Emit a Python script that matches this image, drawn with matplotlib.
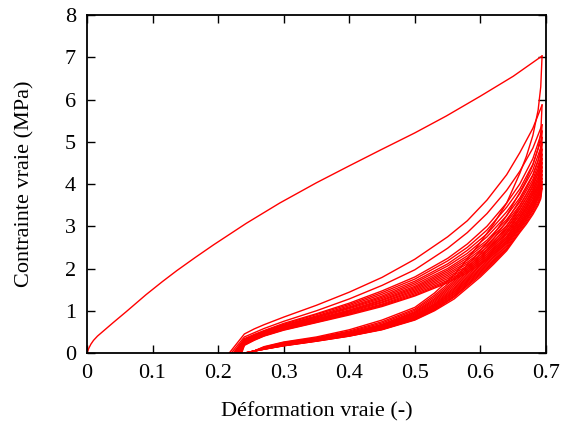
import matplotlib
matplotlib.use("Agg")
import matplotlib.pyplot as plt

# first loading curve
load1_strain = [0, 0.003, 0.006, 0.010, 0.016, 0.025, 0.040, 0.060, 0.090, 0.115, 0.137, 0.165,
                0.193, 0.243, 0.294, 0.350, 0.400, 0.447, 0.500, 0.548, 0.600, 0.650, 0.694]
load1_stress = [0, 0.12, 0.21, 0.30, 0.40, 0.52, 0.72, 0.98, 1.38, 1.69, 1.95, 2.26,
                2.56, 3.07, 3.55, 4.03, 4.43, 4.80, 5.21, 5.61, 6.08, 6.55, 7.03]

# reloading curves (cycles 2..17): start strain at zero stress, then stress at reload_strain
reload_strain = [0.24, 0.255, 0.27, 0.30, 0.35, 0.40, 0.45, 0.50, 0.55, 0.58, 0.61, 0.64, 0.66, 0.68, 0.694]
reload_start = [0.217, 0.220, 0.223, 0.224, 0.225, 0.226, 0.227, 0.228,
                0.229, 0.230, 0.231, 0.232, 0.233, 0.234, 0.235, 0.236]
reload_stress = [
    [0.45, 0.57, 0.67, 0.85, 1.13, 1.44, 1.79, 2.22, 2.75, 3.13, 3.62, 4.22, 4.74, 5.32, 5.87],
    [0.38, 0.48, 0.58, 0.75, 1.00, 1.28, 1.60, 1.97, 2.48, 2.85, 3.30, 3.85, 4.30, 4.85, 5.40],
    [0.34, 0.44, 0.53, 0.70, 0.93, 1.18, 1.47, 1.80, 2.24, 2.58, 3.00, 3.55, 4.00, 4.60, 5.25],
    [0.32, 0.42, 0.52, 0.68, 0.91, 1.15, 1.43, 1.75, 2.18, 2.50, 2.91, 3.45, 3.88, 4.47, 5.10],
    [0.30, 0.41, 0.50, 0.66, 0.88, 1.12, 1.39, 1.70, 2.11, 2.43, 2.82, 3.34, 3.77, 4.33, 4.95],
    [0.29, 0.40, 0.49, 0.65, 0.86, 1.09, 1.35, 1.66, 2.06, 2.36, 2.75, 3.25, 3.67, 4.22, 4.82],
    [0.28, 0.38, 0.48, 0.64, 0.85, 1.07, 1.32, 1.62, 2.00, 2.30, 2.67, 3.16, 3.57, 4.11, 4.70],
    [0.26, 0.37, 0.47, 0.62, 0.83, 1.05, 1.29, 1.58, 1.96, 2.25, 2.62, 3.09, 3.50, 4.02, 4.60],
    [0.25, 0.36, 0.46, 0.61, 0.81, 1.02, 1.26, 1.55, 1.92, 2.20, 2.56, 3.02, 3.42, 3.93, 4.50],
    [0.24, 0.35, 0.45, 0.60, 0.80, 1.00, 1.24, 1.52, 1.88, 2.15, 2.50, 2.95, 3.34, 3.84, 4.40],
    [0.23, 0.34, 0.44, 0.59, 0.78, 0.99, 1.21, 1.49, 1.84, 2.11, 2.44, 2.89, 3.27, 3.77, 4.31],
    [0.22, 0.33, 0.43, 0.58, 0.77, 0.97, 1.19, 1.46, 1.80, 2.06, 2.39, 2.83, 3.20, 3.68, 4.22],
    [0.21, 0.32, 0.42, 0.57, 0.76, 0.95, 1.16, 1.43, 1.76, 2.02, 2.34, 2.76, 3.13, 3.60, 4.13],
    [0.20, 0.32, 0.41, 0.56, 0.74, 0.93, 1.14, 1.40, 1.72, 1.98, 2.29, 2.71, 3.07, 3.53, 4.05],
    [0.19, 0.31, 0.41, 0.55, 0.73, 0.92, 1.12, 1.37, 1.69, 1.94, 2.24, 2.65, 3.01, 3.46, 3.97],
    [0.18, 0.30, 0.40, 0.54, 0.72, 0.90, 1.10, 1.35, 1.66, 1.90, 2.20, 2.60, 2.95, 3.40, 3.90],
]

# unloading curves (cycles 1..17): stress at unload_strain, then end strain at zero stress
unload_strain = [0.694, 0.692, 0.688, 0.68, 0.67, 0.66, 0.64, 0.62, 0.60,
                 0.58, 0.56, 0.53, 0.50, 0.45, 0.40, 0.35, 0.30, 0.27]
unload_end = [0.248, 0.247, 0.246, 0.245, 0.245, 0.244, 0.244, 0.243, 0.243,
              0.242, 0.242, 0.242, 0.241, 0.241, 0.241, 0.240, 0.240]
unload_stress = [
    [7.03, 6.30, 5.75, 5.15, 4.65, 4.25, 3.55, 3.05, 2.62, 2.22, 1.85, 1.42, 1.08, 0.78, 0.55, 0.38, 0.26, 0.15],
    [5.87, 5.20, 4.85, 4.45, 4.10, 3.80, 3.25, 2.80, 2.42, 2.08, 1.76, 1.37, 1.04, 0.74, 0.52, 0.36, 0.25, 0.14],
    [5.40, 4.85, 4.55, 4.20, 3.90, 3.62, 3.12, 2.70, 2.34, 2.02, 1.71, 1.33, 1.01, 0.71, 0.50, 0.35, 0.24, 0.13],
    [5.25, 4.65, 4.35, 4.05, 3.75, 3.48, 3.00, 2.62, 2.28, 1.97, 1.67, 1.29, 0.98, 0.68, 0.48, 0.34, 0.22, 0.12],
    [5.10, 4.54, 4.26, 3.97, 3.67, 3.41, 2.94, 2.56, 2.23, 1.92, 1.63, 1.26, 0.96, 0.67, 0.47, 0.33, 0.21, 0.12],
    [4.95, 4.43, 4.16, 3.88, 3.60, 3.34, 2.87, 2.50, 2.18, 1.88, 1.59, 1.23, 0.94, 0.65, 0.46, 0.33, 0.21, 0.11],
    [4.82, 4.33, 4.08, 3.80, 3.53, 3.28, 2.82, 2.45, 2.13, 1.84, 1.55, 1.20, 0.92, 0.64, 0.45, 0.32, 0.20, 0.11],
    [4.70, 4.24, 4.00, 3.74, 3.47, 3.22, 2.76, 2.41, 2.09, 1.80, 1.52, 1.17, 0.90, 0.63, 0.45, 0.32, 0.20, 0.11],
    [4.60, 4.17, 3.94, 3.68, 3.41, 3.18, 2.72, 2.37, 2.06, 1.77, 1.49, 1.15, 0.88, 0.62, 0.44, 0.31, 0.20, 0.11],
    [4.50, 4.09, 3.88, 3.62, 3.36, 3.13, 2.68, 2.33, 2.02, 1.74, 1.46, 1.13, 0.87, 0.61, 0.44, 0.31, 0.19, 0.10],
    [4.40, 4.02, 3.82, 3.57, 3.31, 3.08, 2.64, 2.29, 1.99, 1.71, 1.44, 1.11, 0.85, 0.60, 0.43, 0.30, 0.19, 0.10],
    [4.31, 3.95, 3.76, 3.51, 3.26, 3.04, 2.60, 2.26, 1.96, 1.69, 1.41, 1.09, 0.84, 0.59, 0.42, 0.30, 0.19, 0.10],
    [4.22, 3.89, 3.70, 3.46, 3.22, 3.00, 2.56, 2.22, 1.93, 1.66, 1.39, 1.07, 0.83, 0.58, 0.42, 0.29, 0.18, 0.10],
    [4.13, 3.82, 3.65, 3.41, 3.17, 2.96, 2.52, 2.19, 1.90, 1.63, 1.36, 1.05, 0.81, 0.57, 0.41, 0.29, 0.18, 0.09],
    [4.05, 3.76, 3.59, 3.37, 3.13, 2.92, 2.48, 2.16, 1.87, 1.61, 1.34, 1.03, 0.80, 0.56, 0.41, 0.29, 0.18, 0.09],
    [3.97, 3.70, 3.54, 3.32, 3.09, 2.88, 2.45, 2.13, 1.84, 1.58, 1.32, 1.02, 0.79, 0.56, 0.40, 0.28, 0.17, 0.09],
    [3.90, 3.65, 3.50, 3.28, 3.05, 2.85, 2.42, 2.10, 1.80, 1.54, 1.28, 1.00, 0.78, 0.55, 0.40, 0.28, 0.17, 0.09],
]

xticks = [0, 0.1, 0.2, 0.3, 0.4, 0.5, 0.6, 0.7]
xtick_labels = ["0", "0.1", "0.2", "0.3", "0.4", "0.5", "0.6", "0.7"]
yticks = [0, 1, 2, 3, 4, 5, 6, 7, 8]

plt.rcParams["font.family"] = ["Liberation Serif", "DejaVu Serif"]

fig = plt.figure(figsize=(5.63, 4.25), dpi=100)
ax = fig.add_axes([0.1545, 0.1694, 0.8153, 0.7953])

red = "#ff0000"
lw = 1.0

ax.plot(load1_strain, load1_stress, color=red, lw=lw)

for x0, s in zip(reload_start, reload_stress):
    ax.plot([x0] + reload_strain, [0] + s, color=red, lw=lw)

for xe, s in zip(unload_end, unload_stress):
    ax.plot(unload_strain + [xe], s + [0], color=red, lw=lw)

ax.set_xlim(0, 0.7)
ax.set_ylim(0, 8)
ax.set_xticks(xticks)
ax.set_xticklabels(xtick_labels)
ax.set_yticks(yticks)
ax.tick_params(direction="in", top=True, right=True, length=6, width=1,
               labelsize=16, pad=8)
for sp in ax.spines.values():
    sp.set_linewidth(1.3)

ax.set_xlabel("Déformation vraie (-)", fontsize=16, labelpad=14)
ax.set_ylabel("Contrainte vraie (MPa)", fontsize=16, labelpad=22)

fig.savefig("out.png", dpi=100)
